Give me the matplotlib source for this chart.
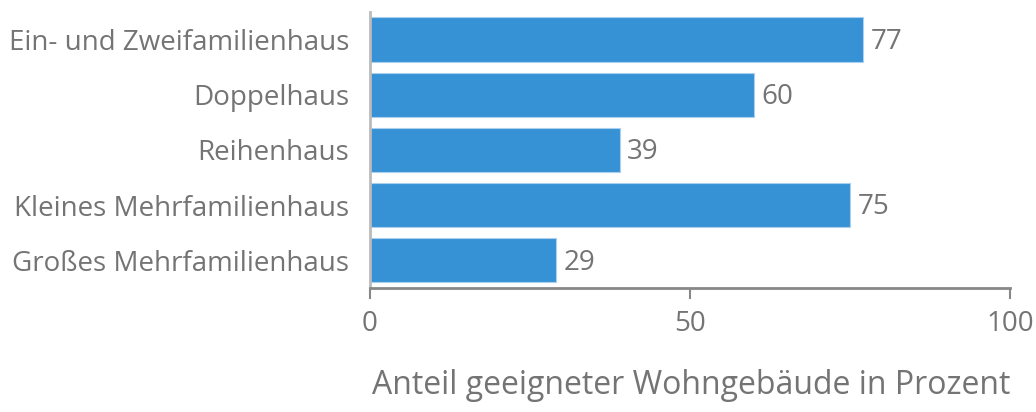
import matplotlib.pyplot as plt

plt.rcParams['font.family'] = ['Open Sans', 'DejaVu Sans']

# Share of suitable residential buildings by building type
categories = ['Ein- und Zweifamilienhaus', 'Doppelhaus', 'Reihenhaus',
              'Kleines Mehrfamilienhaus', 'Großes Mehrfamilienhaus']
values = [77, 60, 39, 75, 29]
xticks = [0, 50, 100]

text_color = '#747474'
bar_color = '#3792d5'
axis_color = '#888888'

fig = plt.figure(figsize=(10.36, 4.12), dpi=100)
ax = fig.add_axes([0.357, 0.301, 0.618, 0.670])

pos = list(range(len(categories)))
bars = ax.barh(pos, values, height=0.8, color=bar_color,
               edgecolor='#a9d0ee', linewidth=0.8)

for b, v in zip(bars, values):
    ax.text(b.get_width() + 1.2, b.get_y() + b.get_height() / 2 + 0.04, str(v),
            va='center', ha='left', fontsize=20, color=text_color)

ax.set_ylim(len(categories) - 0.5, -0.5)
ax.set_xlim(0, 100)
ax.set_yticks(pos)
ax.set_yticklabels(categories, fontsize=20, color=text_color)
ax.tick_params(axis='y', length=0, pad=15)
ax.set_xticks(xticks)
ax.set_xticklabels([str(t) for t in xticks], fontsize=20, color=text_color)
ax.tick_params(axis='x', length=8, width=1.5, color=axis_color, pad=8)

for side in ['top', 'right']:
    ax.spines[side].set_visible(False)
ax.spines['left'].set_color('#bbbbbb')
ax.spines['left'].set_linewidth(2)
ax.spines['bottom'].set_color(axis_color)
ax.spines['bottom'].set_linewidth(2)

ax.set_xlabel('Anteil geeigneter Wohngebäude in Prozent', fontsize=23,
              color=text_color, labelpad=22, loc='right')

fig.savefig('out.png', dpi=100)
